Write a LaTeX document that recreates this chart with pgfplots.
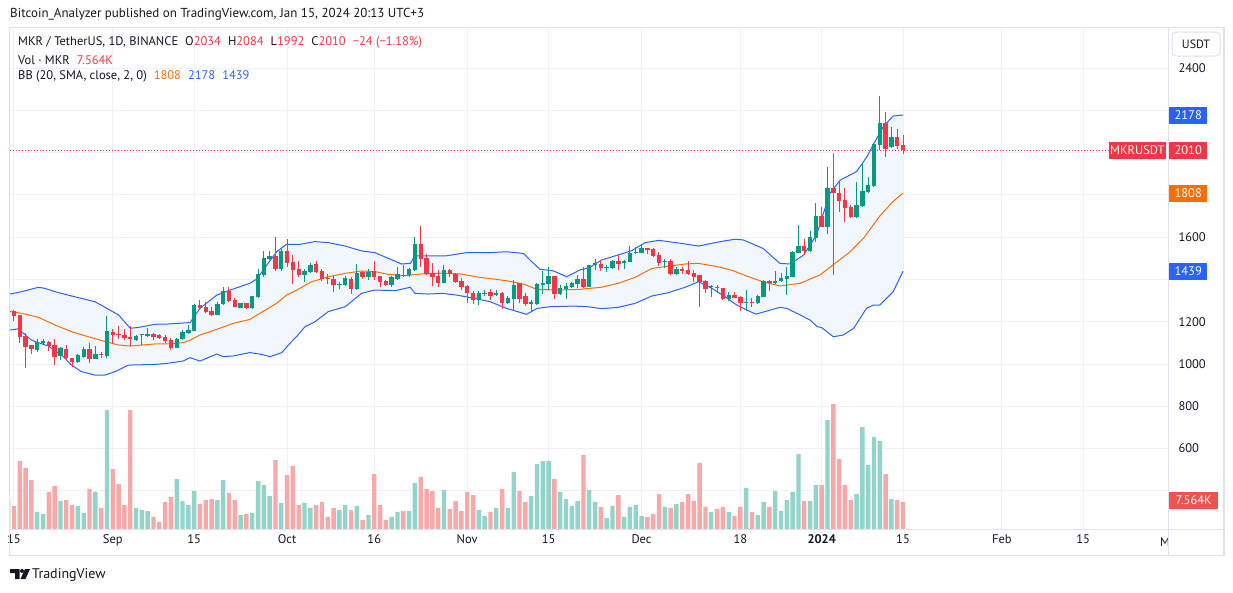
\documentclass[border=0pt]{standalone}
\usepackage{pgfplots}
\pgfplotsset{compat=1.18}
\usepgfplotslibrary{fillbetween}
\usepackage{pgfplotstable}
\usepackage{fontspec}
\setmainfont{PT Sans}
\definecolor{up}{HTML}{089981}
\definecolor{dn}{HTML}{F23645}
\definecolor{vup}{HTML}{92D4C9}
\definecolor{vdn}{HTML}{F7A8A8}
\definecolor{bbb}{HTML}{2962FF}
\definecolor{bbo}{HTML}{FF6D00}
\definecolor{bbf}{HTML}{F2F7FE}
\definecolor{gridc}{HTML}{EEF1F7}
\definecolor{framec}{HTML}{E0E3EB}
\definecolor{txt}{HTML}{131722}
\definecolor{vlab}{HTML}{EF5350}

% rising candles: day o h l c
\pgfplotstableread{
d o h l c
4 1066 1120 1058 1102
5 1098 1118 1090 1109
8 1038 1082 1019 1074
11 1009 1047 1007 1041
12 1033 1079 1030 1072
14 1023 1085 1022 1047
16 1038 1227 1030 1156
21 1113 1135 1108 1132
22 1135 1138 1090 1138
23 1132 1170 1128 1142
28 1077 1121 1074 1118
29 1117 1161 1114 1151
30 1147 1185 1142 1161
31 1158 1284 1156 1279
35 1233 1292 1232 1285
36 1284 1363 1281 1345
39 1267 1290 1265 1287
41 1263 1323 1260 1320
42 1317 1448 1314 1424
43 1421 1536 1413 1500
44 1497 1536 1492 1512
46 1448 1544 1441 1534
50 1423 1448 1386 1440
51 1435 1476 1430 1468
56 1372 1386 1353 1378
57 1374 1416 1369 1408
59 1355 1473 1350 1429
61 1412 1448 1397 1437
65 1375 1418 1366 1410
66 1403 1457 1397 1426
68 1423 1454 1413 1451
69 1445 1599 1438 1568
74 1385 1468 1382 1445
80 1303 1347 1281 1334
81 1333 1350 1323 1337
83 1325 1350 1322 1337
85 1290 1323 1282 1314
86 1307 1397 1255 1374
89 1285 1303 1247 1291
90 1284 1382 1281 1378
91 1374 1441 1331 1385
92 1378 1460 1350 1416
94 1331 1375 1326 1358
95 1356 1382 1307 1369
96 1366 1389 1358 1385
97 1378 1421 1358 1402
99 1366 1468 1363 1468
100 1466 1495 1445 1476
102 1452 1468 1437 1460
103 1456 1492 1448 1487
105 1476 1492 1449 1487
106 1484 1558 1481 1527
107 1523 1555 1520 1531
108 1527 1567 1523 1550
112 1484 1495 1452 1488
114 1424 1460 1421 1449
120 1362 1374 1318 1366
123 1307 1339 1299 1325
126 1287 1350 1252 1292
128 1287 1326 1284 1322
129 1318 1396 1315 1393
131 1382 1440 1377 1393
132 1393 1432 1389 1408
133 1404 1460 1326 1418
134 1413 1535 1410 1531
135 1527 1657 1524 1560
137 1534 1629 1531 1602
138 1597 1760 1579 1700
140 1650 1930 1615 1834
145 1694 1859 1692 1752
146 1749 1952 1744 1818
147 1815 1886 1807 1847
148 1842 2047 1839 2041
149 2036 2268 2012 2141
151 2025 2123 2020 2075
}\upc

% falling candles: day o h l c
\pgfplotstableread{
d o h l c
0 1251 1256 1205 1229
1 1232 1234 1101 1129
2 1132 1145 979 1082
3 1090 1092 1047 1069
6 1106 1107 1063 1087
7 1090 1118 995 1035
9 1071 1090 1022 1028
10 1028 1030 987 1009
13 1071 1101 1003 1025
15 1047 1058 1027 1044
17 1151 1164 1093 1139
18 1140 1181 1117 1138
19 1135 1164 1113 1123
20 1127 1181 1085 1117
24 1142 1145 1115 1130
25 1137 1142 1117 1125
26 1129 1136 1101 1109
27 1112 1124 1066 1077
32 1279 1303 1259 1265
33 1270 1292 1240 1248
34 1251 1268 1229 1233
37 1344 1363 1295 1300
38 1304 1311 1268 1270
40 1287 1290 1260 1263
45 1511 1599 1441 1451
47 1536 1590 1457 1479
48 1484 1516 1378 1445
49 1449 1487 1413 1421
52 1471 1487 1430 1437
53 1440 1449 1394 1402
54 1407 1424 1378 1402
55 1402 1418 1342 1372
58 1402 1413 1330 1355
60 1434 1440 1402 1412
62 1440 1487 1397 1413
63 1415 1418 1366 1389
64 1392 1397 1369 1375
67 1423 1468 1410 1418
70 1568 1653 1457 1498
71 1501 1519 1421 1426
72 1430 1478 1369 1413
73 1416 1445 1363 1385
75 1445 1449 1413 1426
76 1426 1429 1385 1389
77 1393 1405 1350 1366
78 1369 1374 1290 1337
79 1337 1347 1284 1303
82 1339 1353 1303 1323
84 1337 1342 1262 1290
87 1382 1385 1287 1307
88 1322 1334 1274 1284
93 1416 1416 1307 1331
98 1402 1457 1358 1366
101 1471 1492 1440 1452
104 1487 1516 1445 1473
109 1547 1550 1520 1539
110 1544 1550 1508 1512
111 1516 1531 1465 1479
113 1487 1497 1421 1424
115 1449 1460 1426 1440
116 1445 1487 1421 1426
117 1432 1445 1389 1413
118 1419 1421 1271 1389
119 1393 1397 1337 1353
121 1362 1374 1334 1359
122 1358 1361 1303 1307
124 1326 1342 1311 1314
125 1318 1322 1252 1287
127 1292 1311 1271 1287
130 1393 1397 1345 1382
136 1560 1591 1516 1534
139 1700 1744 1646 1650
141 1831 1999 1421 1807
142 1807 1859 1721 1773
143 1776 1831 1673 1739
144 1744 1752 1689 1694
150 2141 2193 1981 2015
152 2075 2110 2015 2033
153 2034 2084 1992 2010
}\dnc

% volume (thousand MKR), rising days
\pgfplotstableread{
d v
-1 8.4
4 4.8
5 4.2
8 7.8
11 6.4
12 4.5
14 10.4
16 33.3
21 5.9
22 5.3
23 5.0
28 14.0
29 7.8
30 6.7
31 10.6
35 8.1
36 13.7
39 3.9
41 4.5
42 13.4
43 12.3
44 9.2
46 7.3
50 7.3
51 5.9
56 5.3
57 6.7
59 6.4
61 3.9
65 3.4
66 4.8
68 5.0
69 12.9
74 10.9
80 5.3
81 3.6
83 5.9
85 5.9
86 16.0
89 9.2
90 18.2
91 19.0
92 19.0
94 10.4
95 8.4
96 6.4
97 7.8
99 10.9
100 7.6
102 3.1
103 6.4
105 3.4
106 6.2
107 6.7
108 3.6
112 6.2
114 7.0
120 4.8
123 4.8
126 11.5
128 3.9
129 7.6
131 10.6
132 5.0
133 8.1
134 10.4
135 21.0
137 7.8
138 12.3
140 30.5
145 9.8
146 28.5
147 17.9
148 25.8
149 24.6
151 8.4
}\vupt

% volume (thousand MKR), falling days
\pgfplotstableread{
d v
0 6.4
1 19.0
2 17.1
3 13.7
6 10.4
7 12.0
9 8.1
10 6.7
13 11.2
15 5.9
17 16.8
18 12.6
19 6.7
20 33.3
24 3.4
25 2.0
26 7.6
27 9.0
32 7.0
33 8.1
34 8.4
37 10.1
38 8.1
40 4.2
45 19.3
47 15.1
48 17.6
49 6.7
52 6.7
53 7.6
54 3.4
55 5.9
58 5.3
60 2.5
62 15.4
63 6.7
64 2.5
67 5.0
70 14.6
71 11.2
72 10.6
73 5.9
75 5.6
76 7.8
77 5.0
78 10.4
79 9.5
82 4.8
84 11.2
87 10.6
88 7.6
93 14.0
98 20.7
101 6.2
104 9.5
109 3.4
110 4.2
111 9.8
113 5.9
115 7.6
116 9.8
117 7.8
118 18.5
119 6.2
121 5.6
122 6.2
124 3.6
125 6.2
127 4.8
130 6.2
136 7.8
139 12.3
141 35.0
142 19.6
143 12.3
144 8.1
150 15.4
152 8.1
153 7.564
}\vdnt

% Bollinger upper band
\pgfplotstableread{
d v
-0.7 1331
1.3 1342
4.2 1363
5.3 1358
7.1 1342
9.9 1322
13.9 1295
15.7 1268
18.0 1232
20.0 1169
21.4 1173
24.3 1188
26.3 1189
30.3 1196
31.2 1232
32.0 1263
34.9 1326
37.2 1350
40.6 1382
41.8 1402
42.9 1445
45.2 1531
46.9 1566
49.2 1566
51.8 1579
54.1 1574
57.0 1558
59.8 1535
62.1 1527
64.4 1500
66.7 1473
68.2 1476
69.0 1511
71.3 1511
74.2 1511
77.9 1527
81.9 1527
84.8 1531
87.7 1523
88.8 1492
90.5 1448
92.8 1441
95.1 1413
97.4 1445
99.0 1455
101.1 1492
104.0 1516
106.3 1536
108.6 1574
111.0 1585
115.5 1568
117.8 1558
120.1 1571
122.4 1583
124.1 1590
125.5 1587
128.9 1547
131.8 1476
133.6 1473
135.9 1516
138.1 1610
140.4 1807
142.2 1870
145.0 1910
146.8 1981
148.0 2044
149.6 2123
151.3 2173
153.0 2178
}\bbup

% Bollinger middle band
\pgfplotstableread{
d v
-0.7 1248
1.3 1240
4.2 1221
7.1 1184
9.9 1153
12.8 1129
15.7 1106
18.0 1090
20.0 1085
24.3 1095
26.3 1095
29.1 1101
30.3 1113
32.0 1137
34.9 1164
37.7 1192
40.6 1211
42.3 1240
45.2 1287
46.9 1326
48.8 1352
51.2 1389
54.1 1413
57.0 1429
59.8 1440
62.1 1437
64.4 1424
67.3 1418
70.2 1426
73.8 1430
76.8 1426
80.2 1410
84.8 1394
87.7 1378
90.0 1353
93.4 1350
97.4 1353
98.7 1357
101.1 1363
104.0 1382
106.9 1410
109.8 1452
112.6 1463
115.5 1473
117.8 1476
121.2 1460
123.7 1442
126.1 1416
128.9 1389
131.8 1369
135.3 1382
138.7 1421
141.3 1476
143.9 1531
146.2 1595
149.0 1700
151.4 1772
153.0 1808
}\bbmid

% Bollinger lower band
\pgfplotstableread{
d v
-0.7 1161
0.7 1166
3.0 1113
4.2 1101
5.9 1085
8.2 1042
9.9 995
11.6 964
13.9 948
15.7 948
17.4 964
19.7 995
24.3 998
26.3 1003
29.1 1014
30.3 1030
32.0 1014
34.9 1047
36.0 1035
37.7 1038
40.6 1054
42.3 1047
44.1 1035
46.1 1054
47.5 1098
48.8 1135
50.1 1177
51.8 1200
54.1 1248
57.0 1271
59.8 1334
62.1 1350
65.6 1347
68.2 1363
69.0 1334
71.3 1331
73.8 1334
76.2 1326
79.1 1311
81.9 1295
84.8 1263
88.2 1235
90.0 1263
92.3 1271
96.3 1274
98.7 1271
101.1 1262
104.0 1268
106.9 1287
109.8 1322
112.6 1337
115.5 1363
117.8 1389
120.1 1358
122.4 1318
124.1 1284
126.1 1255
127.7 1236
129.5 1250
131.8 1268
133.0 1263
135.3 1232
137.0 1208
138.2 1177
139.0 1172
141.0 1129
142.7 1137
144.5 1169
146.7 1263
147.9 1279
149.0 1279
151.3 1342
153.0 1439
}\bblow

\newcommand{\tfont}{\fontsize{12.5}{14}\selectfont}

\pgfplotsset{candle/.style={only marks, mark=*, mark size=0pt,
  mark options={draw opacity=0, fill opacity=0}, forget plot,
  error bars/y dir=plus, error bars/y explicit, error bars/error mark=none}}

\begin{document}
\begin{tikzpicture}
\path (0pt,0pt) rectangle (1233pt,-592pt);

\begin{axis}[
  at={(10pt,-29pt)}, anchor=north west,
  scale only axis, width=1158pt, height=500pt,
  xmin=-0.688, xmax=198.6, ymin=219.7, ymax=2584.5,
  axis line style={draw=none},
  major tick length=0pt,
  xtick={0,17,31,47,62,78,92,108,125,139,153,170,184},
  xticklabels={15,Sep,15,Oct,16,Nov,15,Dec,18,\textbf{2024},15,Feb,15},
  ytick={400,600,...,2400},
  yticklabels={,600,800,1000,1200,,1600,,,,2400},
  yticklabel pos=right,
  grid=major, grid style={gridc, line width=1pt},
  tick label style={font=\tfont, text=txt},
  xticklabel style={yshift=-2pt},
  yticklabel style={anchor=west, xshift=7pt},
]
\addplot[draw=none, name path=U, forget plot] table[x=d,y=v] {\bbup};
\addplot[draw=none, name path=L, forget plot] table[x=d,y=v] {\bblow};
\addplot[bbf, forget plot] fill between[of=U and L];
\addplot[bbb, line width=1pt, forget plot] table[x=d,y=v] {\bbup};
\addplot[bbb, line width=1pt, forget plot] table[x=d,y=v] {\bblow};
\addplot[bbo, line width=1pt, forget plot] table[x=d,y=v] {\bbmid};

\draw[dn, line width=1pt, dash pattern=on 1pt off 2pt] (axis cs:-0.688,2010) -- (axis cs:188.6,2010);

% wicks
\addplot[candle, error bars/error bar style={draw=up, line width=1pt}]
  table[x=d, y=l, y error expr=\thisrow{h}-\thisrow{l}] {\upc};
\addplot[candle, error bars/error bar style={draw=dn, line width=1pt}]
  table[x=d, y=l, y error expr=\thisrow{h}-\thisrow{l}] {\dnc};
% bodies
\addplot[candle, error bars/error bar style={draw=up, line width=4.4pt}]
  table[x=d, y=o, y error expr={max(\thisrow{c}-\thisrow{o},4.7)}] {\upc};
\addplot[candle, error bars/error bar style={draw=dn, line width=4.4pt}]
  table[x=d, y=c, y error expr={max(\thisrow{o}-\thisrow{c},4.7)}] {\dnc};
\end{axis}

\begin{axis}[
  at={(10pt,-29pt)}, anchor=north west,
  scale only axis, width=1158pt, height=500pt,
  xmin=-0.688, xmax=198.6, ymin=0, ymax=140,
  hide axis,
]
\addplot[ybar, bar width=4.4pt, bar shift=0pt, fill=vup, draw=none] table[x=d,y=v] {\vupt};
\addplot[ybar, bar width=4.4pt, bar shift=0pt, fill=vdn, draw=none] table[x=d,y=v] {\vdnt};
\end{axis}

% frame
\draw[framec, line width=1.5pt] (9.5pt,-27.5pt) rectangle (1224pt,-555.5pt);
\draw[framec, line width=1pt] (1168pt,-27.5pt) -- (1168pt,-555.5pt);
\draw[framec, line width=1pt] (9.5pt,-529pt) -- (1224pt,-529pt);

% header
\node[anchor=west, font=\fontsize{13}{15}\selectfont, text=txt, inner sep=0pt] at (10pt,-14.5pt)
  {Bitcoin\_Analyzer published on TradingView.com, Jan 15, 2024 20:13 UTC+3};

% legend lines
\node[anchor=west, font=\tfont, text=txt, inner sep=0pt] at (18pt,-42.5pt)
  {MKR / TetherUS, 1D, BINANCE\hspace{7pt}O{\color{dn}2034}\hspace{7pt}H{\color{dn}2084}\hspace{7pt}L{\color{dn}1992}\hspace{7pt}C{\color{dn}2010}\hspace{7pt}{\color{dn}−24 (−1.18\%)}};
\node[anchor=west, font=\tfont, text=txt, inner sep=0pt] at (18pt,-60pt)
  {Vol · MKR\hspace{7pt}{\color{dn}7.564K}};
\node[anchor=west, font=\tfont, text=txt, inner sep=0pt] at (18pt,-76.5pt)
  {BB (20, SMA, close, 2, 0)\hspace{7pt}{\color{bbo}1808}\hspace{7pt}{\color{bbb}2178}\hspace{7pt}{\color{bbb}1439}};

% USDT box
\draw[framec, line width=1pt, rounded corners=4pt, fill=white] (1172pt,-32pt) rectangle (1220pt,-56pt);
\node[font=\fontsize{12}{14}\selectfont, text=txt] at (1196pt,-44pt) {USDT};

% price labels
\node[fill=bbb, text=white, font=\tfont, minimum width=38pt, minimum height=17pt, inner sep=0pt, anchor=west] at (1169pt,-115pt) {2178};
\node[fill=dn, text=white, font=\tfont, minimum width=38pt, minimum height=17pt, inner sep=0pt, anchor=west] at (1169pt,-150.5pt) {2010};
\node[fill=dn, text=white, font=\tfont, minimum width=57pt, minimum height=17pt, inner sep=0pt, anchor=east] at (1166pt,-150.5pt) {MKRUSDT};
\node[fill=bbo, text=white, font=\tfont, minimum width=38pt, minimum height=17pt, inner sep=0pt, anchor=west] at (1169pt,-193pt) {1808};
\node[fill=bbb, text=white, font=\tfont, minimum width=38pt, minimum height=17pt, inner sep=0pt, anchor=west] at (1169pt,-271pt) {1439};
\node[fill=vlab, text=white, font=\tfont, minimum width=49pt, minimum height=17pt, inner sep=0pt, anchor=west] at (1169pt,-500.5pt) {7.564K};

% cut month label at the right edge
\begin{scope}
\clip (1100pt,-530pt) rectangle (1167.5pt,-555pt);
\node[font=\tfont, text=txt] at (1165pt,-542pt) {M};
\end{scope}

% TradingView logo
\fill[txt] (10pt,-569pt) -- (19.5pt,-569pt) -- (19.5pt,-579pt) -- (15pt,-579pt) -- (15pt,-573pt) -- (10pt,-573pt) -- cycle;
\fill[txt] (22pt,-571pt) circle (2pt);
\fill[txt] (25pt,-569pt) -- (30pt,-569pt) -- (25.5pt,-579pt) -- (20.5pt,-579pt) -- cycle;
\node[anchor=west, font=\fontsize{14}{16}\selectfont, text=txt, inner sep=0pt] at (32pt,-575pt) {TradingView};
\end{tikzpicture}
\end{document}
